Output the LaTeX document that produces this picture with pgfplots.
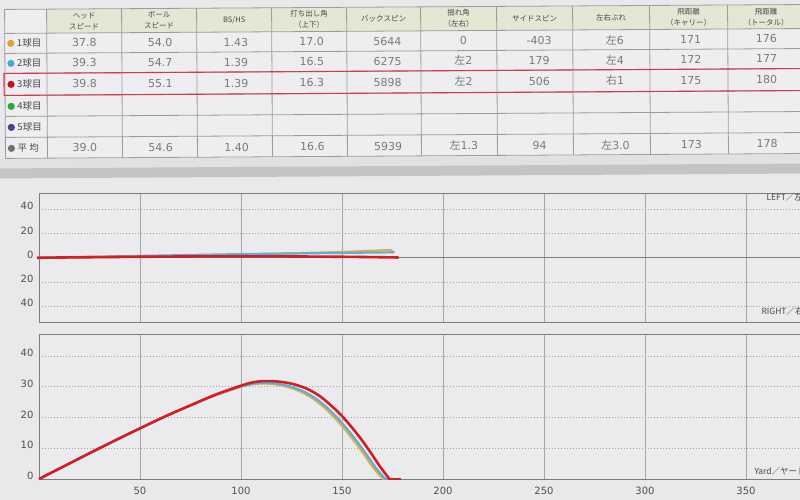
\documentclass[border=0pt]{standalone}
\usepackage{fontspec}
\setmainfont{Noto Sans CJK JP}
\newfontfamily\dv{DejaVu Sans}
\usepackage{pgfplots}
\pgfplotsset{compat=1.18}

\definecolor{bg}{HTML}{E9E9EB}
\definecolor{plotbg}{HTML}{EBEBED}
\definecolor{cellbg}{HTML}{EEEEF0}
\definecolor{headbg}{HTML}{E2E8D3}
\definecolor{tgrid}{HTML}{9C9C9E}
\definecolor{numgray}{HTML}{7A7A7C}
\definecolor{labgray}{HTML}{484848}
\definecolor{hl}{HTML}{D03A4C}
\definecolor{c1}{HTML}{E6A030}
\definecolor{c2}{HTML}{45A8D8}
\definecolor{c3}{HTML}{C8101E}
\definecolor{c4}{HTML}{2AA63A}
\definecolor{c5}{HTML}{4A3E9A}
\definecolor{c6}{HTML}{707070}
\definecolor{band}{HTML}{C4C4C7}
\definecolor{bandlt}{HTML}{E1E1E3}
\definecolor{axgray}{HTML}{7C7C7E}
\definecolor{vgrid}{HTML}{A6A6A8}
\definecolor{dotgray}{HTML}{A0A0A2}
\definecolor{tickgray}{HTML}{505052}
\definecolor{line1}{HTML}{E2AE48}
\definecolor{line2}{HTML}{56B2D6}
\definecolor{line3}{HTML}{D61C26}

\newcommand\cells[2]{%
  \foreach \v [count=\i] in {#2}
    {\node[font=\dv\fontsize{11}{13}\selectfont, text=numgray] at ({84.5+75.8*(\i-1)},#1) {\v};}}
\newcommand\hd[2]{\node[align=center, font=\fontsize{7.5}{11}\selectfont, text=labgray] at (#1,19) {#2};}
\newcommand\rowlab[3]{%
  \fill[#2] (11,#1) circle (3.6);
  \node[anchor=west, font=\fontsize{9.5}{11}\selectfont, text=labgray, inner sep=0pt] at (17,#1) {#3};}
\newcommand\hidari{{\rmfamily 左}}
\newcommand\migi{{\rmfamily 右}}

\pgfplotsset{
  flight/.style={
    scale only axis, width=808pt,
    xmin=0, xmax=400,
    xtick={50,100,...,350},
    xmajorgrids, ymajorgrids,
    x grid style={solid, draw=vgrid, line width=0.7pt},
    y grid style={dash pattern=on 1pt off 2pt, draw=dotgray, line width=0.9pt},
    major tick length=0pt,
    axis line style={draw=axgray, line width=0.8pt},
    ticklabel style={font=\dv\fontsize{10}{12}\selectfont, text=tickgray},
    yticklabel style={xshift=-2pt, yshift=3pt},
    xticklabel style={yshift=-5pt},
    /pgf/number format/assume math mode=true,
    axis background/.style={fill=plotbg},
    clip=false,
  }
}

\begin{document}
\begin{tikzpicture}[x=1pt,y=-1pt]
\useasboundingbox (0,0) rectangle (800,500);
\clip (0,0) rectangle (800,500);
\fill[bg] (0,0) rectangle (800,500);

\begin{scope}[rotate around={0.35:(400,80)}]
  \fill[cellbg] (5,7) rectangle (815,156);
  \fill[headbg] (47,7) rectangle (815,31);
  \fill[bandlt] (-10,157) rectangle (815,166);
  \fill[band] (-10,166) rectangle (815,176);
  \foreach \x in {47,122,197,272,347,421,497,573,650,728}
    \draw[tgrid, line width=0.8pt] (\x,7) -- (\x,156);
  \foreach \y in {31,51,71,93,114,135}
    \draw[tgrid, line width=0.8pt] (5,\y) -- (815,\y);
  \draw[tgrid, line width=0.8pt] (815,7) -- (5,7) -- (5,156) -- (815,156);
  \draw[hl, line width=1.1pt] (815,71) -- (4,71) -- (4,93) -- (815,93);

  \hd{84.5}{ヘッド\\スピード}
  \hd{159.5}{ボール\\スピード}
  \hd{234.5}{BS/HS}
  \hd{309.5}{打ち出し角\\（上下）}
  \hd{384}{バックスピン}
  \hd{459}{揺れ角\\（左右）}
  \hd{535}{サイドスピン}
  \hd{611.5}{左右ぶれ}
  \hd{689}{飛距離\\（キャリー）}
  \hd{766.5}{飛距離\\（トータル）}

  \rowlab{41}{c1}{1球目}
  \rowlab{61}{c2}{2球目}
  \rowlab{82}{c3}{3球目}
  \rowlab{104}{c4}{4球目}
  \rowlab{125}{c5}{5球目}
  \rowlab{146}{c6}{平\ 均}

  \cells{41}{37.8,54.0,1.43,17.0,5644,0,-403,\hidari6,171,176}
  \cells{61}{39.3,54.7,1.39,16.5,6275,\hidari2,179,\hidari4,172,177}
  \cells{82}{39.8,55.1,1.39,16.3,5898,\hidari2,506,\migi1,175,180}
  \cells{146}{39.0,54.6,1.40,16.6,5939,\hidari1.3,94,\hidari3.0,173,178}
\end{scope}

% top view: lateral deviation
\begin{axis}[flight,
  at={(39pt,-322pt)}, anchor=south west,
  height=128.5pt,
  ymin=-53, ymax=53,
  xticklabels={},
  ytick={-40,-20,0,20,40}, yticklabels={40,20,0,20,40},
]
\addplot[axgray, line width=0.8pt] coordinates {(0,0) (400,0)};
\addplot[line1, line width=2.2pt, smooth] coordinates {(0,0) (50,0.8) (100,2.5) (150,4.8) (175,6.5)};
\addplot[line2, line width=2.2pt, smooth] coordinates {(0,0) (50,1.5) (100,3.0) (150,4.0) (176,4.5)};
\addplot[line3, line width=2.6pt, smooth] coordinates {(-1,0) (50,0.8) (100,1.2) (150,0.8) (178,0.2)};
\end{axis}

% side view: height
\begin{axis}[flight,
  at={(39pt,-479pt)}, anchor=south west,
  height=144.3pt,
  ymin=0, ymax=47,
  ytick={0,10,...,40},
]
\addplot[line1, line width=2.2pt, smooth] coordinates {
  (0,0) (12.5,4.2) (25,8.4) (37.5,12.5) (50,16.5) (62.5,20.4) (75,24.0)
  (87.5,27.3) (100,30.0) (105,30.8) (110,31.1) (116,30.9) (123,30.0)
  (130,28.3) (136,26.0) (141,23.4) (146,20.2) (151,16.5) (156,12.4)
  (161,7.9) (166,3.2) (170.5,0)};
\addplot[line1, line width=2.2pt] coordinates {(170.5,0) (176,0)};
\addplot[line2, line width=2.2pt, smooth] coordinates {
  (0,0) (12.5,4.2) (25,8.4) (37.5,12.5) (50,16.5) (62.5,20.4) (75,24.0)
  (87.5,27.4) (100,30.2) (106,31.0) (111,31.3) (117,31.1) (124,30.2)
  (131,28.5) (137,26.2) (142,23.6) (147,20.4) (152,16.7) (157,12.6)
  (162,8.1) (167,3.4) (171.5,0)};
\addplot[line2, line width=2.2pt] coordinates {(171.5,0) (177,0)};
\addplot[line3, line width=2.6pt, smooth] coordinates {
  (0,0) (12.5,4.2) (25,8.4) (37.5,12.5) (50,16.5) (62.5,20.4) (75,24.0)
  (87.5,27.5) (100,30.4) (106,31.5) (112,31.9) (119,31.7) (126,30.9)
  (133,29.3) (139,27.0) (144,24.3) (149,21.2) (154,17.5) (159,13.4)
  (164,8.8) (169,3.9) (173.5,0)};
\addplot[line3, line width=2.6pt] coordinates {(173.5,0) (179,0)};
\end{axis}

\node[anchor=west, font=\fontsize{8.5}{10}\selectfont, text=labgray] at (763,197) {LEFT／左};
\node[anchor=west, font=\fontsize{8.5}{10}\selectfont, text=labgray] at (758,311) {RIGHT／右};
\node[anchor=west, font=\fontsize{8.5}{10}\selectfont, text=labgray] at (751,471) {Yard／ヤード};
\end{tikzpicture}
\end{document}
